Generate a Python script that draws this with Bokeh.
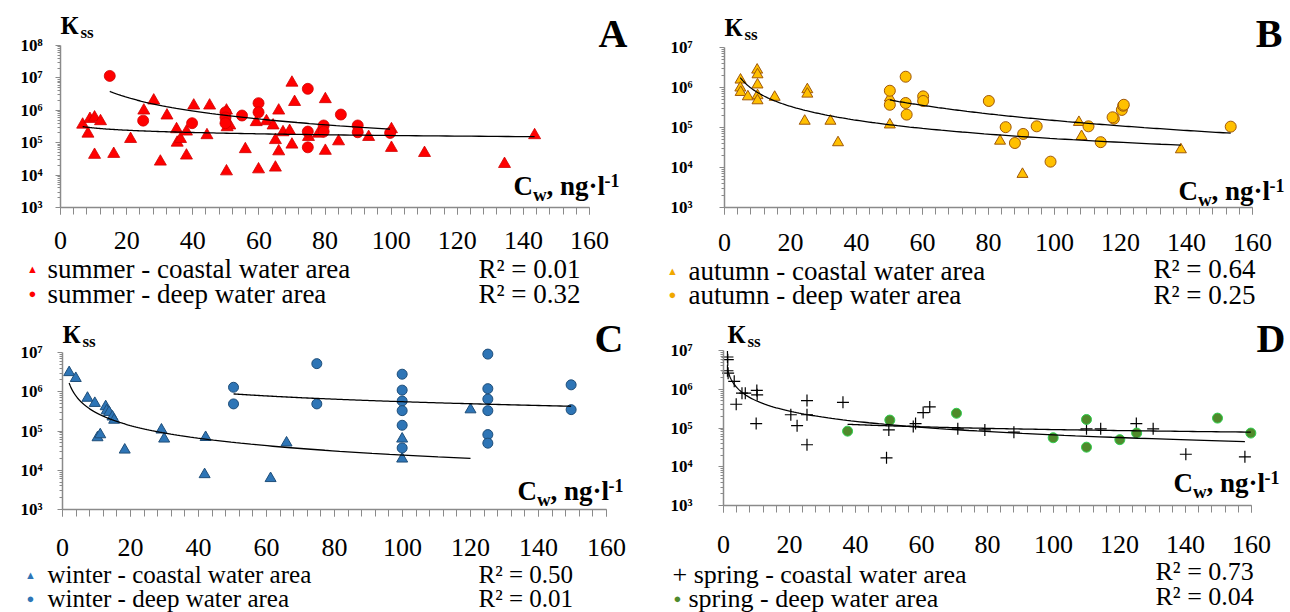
import numpy as np
from bokeh.plotting import figure
from bokeh.layouts import row, column
from bokeh.models import Range1d, Label, SingleIntervalTicker, FixedTicker, CustomJSTickFormatter
from bokeh.embed import file_html
from bokeh.resources import INLINE

# ---------------- data ----------------
summer_coastal_x = [6.7, 8.3, 8.9, 10.3, 12.1, 10.3, 16.1, 21.2, 25.2, 28.2, 30.2, 32.2, 35.1, 35.3, 36.3,
                    38.1, 38.1, 40.3, 44.3, 45.1, 50.2, 50.2, 51.2, 50.4, 55.9, 59.2, 59.9, 62.3, 64.3, 65.0,
                    66.0, 66.0, 65.0, 67.3, 69.3, 70.0, 70.0, 70.8, 75.0, 78.0, 80.1, 80.1, 84.1, 93.2, 100.1,
                    100.1, 110.1, 134.3, 143.4]
summer_coastal_y = [3.6e5, 1.9e5, 5.4e5, 6.0e5, 4.6e5, 4.2e4, 4.5e4, 1.3e5, 9.8e5, 2.0e6, 2.6e4, 6.9e5, 2.6e5, 1.0e5, 1.3e5,
                    2.2e5, 4.0e4, 1.4e6, 1.7e5, 1.4e6, 9.8e5, 1.3e4, 3.4e5, 3.0e5, 6.3e4, 4.3e5, 1.5e4, 4.6e5, 3.4e5, 1.2e5,
                    9.8e5, 5.4e4, 1.7e4, 2.1e5, 2.3e5, 8.7e4, 7.1e6, 1.8e6, 1.5e5, 1.9e5, 2.2e6, 5.6e4, 1.1e5, 1.5e5, 2.6e5,
                    6.9e4, 4.8e4, 2.2e4, 1.7e5]
summer_deep_x = [14.9, 25.0, 39.8, 49.9, 49.9, 49.9, 54.9, 59.9, 59.9, 74.8, 74.8, 74.8, 79.6, 79.6, 84.8, 89.9, 89.9, 99.7]
summer_deep_y = [1.15e7, 4.8e5, 4.0e5, 8.7e5, 6.0e5, 4.0e5, 6.9e5, 1.66e6, 8.7e5, 4.6e6, 2.2e5, 7.2e4, 3.4e5, 2.2e5, 7.4e5, 3.4e5, 2.1e5, 2.0e5]

autumn_coastal_x = [4.85, 4.8, 4.9, 7.07, 9.9, 10.0, 10.0, 10.0, 10.0, 15.2, 25.1, 25.1, 24.3, 32.1, 34.4, 50.1, 50.1,
                    83.5, 90.3, 107.4, 108.2, 138.3]
autumn_coastal_y = [1.55e6, 9.8e5, 7.6e5, 5.9e5, 2.75e6, 2.1e6, 1.17e6, 6.3e5, 4.7e5, 5.75e5, 8.9e5, 6.9e5, 1.45e5, 1.45e5,
                    4.2e4, 1.17e5, 5.5e5, 4.6e4, 6.8e3, 1.35e5, 6.0e4, 2.8e4]
autumn_deep_x = [50.1, 50.1, 54.9, 54.9, 55.2, 60.2, 60.2, 80.1, 85.2, 88.0, 90.5, 94.6, 98.8, 110.3, 114.0, 118.0, 117.6,
                 120.4, 120.8, 121.0, 153.4]
autumn_deep_y = [8.3e5, 3.7e5, 1.86e6, 4.1e5, 2.1e5, 6.0e5, 4.6e5, 4.6e5, 1.02e5, 4.1e4, 6.9e4, 1.07e5, 1.4e4, 1.07e5, 4.3e4,
                 1.66e5, 1.8e5, 2.75e5, 3.5e5, 3.7e5, 1.05e5]

winter_coastal_x = [1.96, 3.9, 7.35, 9.5, 10.3, 11.1, 12.7, 13.0, 13.7, 14.7, 15.2, 18.3, 29.1, 29.9, 42.1, 41.8, 61.2,
                    65.9, 99.9, 99.9, 120.0]
winter_coastal_y = [3.1e6, 2.2e6, 6.9e5, 5.1e5, 6.8e4, 8.1e4, 4.2e5, 3.3e5, 3.0e5, 2.3e5, 1.9e5, 3.3e4, 1.07e5, 6.3e4,
                    6.9e4, 7.8e3, 6.2e3, 5.0e4, 6.3e4, 1.95e4, 3.5e5]
winter_deep_x = [50.3, 50.3, 74.8, 74.8, 99.9, 99.9, 99.9, 99.9, 99.9, 99.9, 125.1, 125.1, 125.1, 125.1, 125.1, 125.1,
                 149.6, 149.6]
winter_deep_y = [1.3e6, 4.9e5, 5.2e6, 4.9e5, 2.8e6, 1.1e6, 5.8e5, 3.3e5, 1.4e5, 3.7e4, 9.1e6, 1.2e6, 6.5e5, 3.3e5, 8.1e4,
                 4.9e4, 1.5e6, 3.5e5]

spring_coastal_x = [1.2, 1.3, 1.2, 1.4, 3.25, 3.85, 5.6, 6.6, 10.1, 10.2, 9.9, 20.4, 22.3, 25.3, 25.3, 25.3, 36.2, 49.4,
                    50.1, 57.5, 58.2, 60.5, 62.5, 71.0, 79.2, 88.0, 110.0, 114.3, 125.1, 130.2, 140.1, 158.0]
spring_coastal_y = [6.8e6, 5.8e6, 3.0e6, 2.6e6, 1.6e6, 4.1e5, 7.9e5, 7.9e5, 9.3e5, 7.2e5, 1.3e5, 2.2e5, 1.15e5, 5.1e5,
                    2.2e5, 3.7e4, 4.6e5, 1.7e4, 8.9e4, 1.1e5, 1.3e5, 2.5e5, 3.5e5, 9.5e4, 8.9e4, 7.8e4, 9.5e4, 9.5e4,
                    1.3e5, 9.5e4, 2.1e4, 1.8e4]
spring_deep_x = [37.6, 50.4, 70.6, 99.9, 110.0, 110.0, 120.1, 125.2, 149.7, 159.8]
spring_deep_y = [8.3e4, 1.6e5, 2.4e5, 5.6e4, 1.66e5, 3.2e4, 5.0e4, 7.4e4, 1.8e5, 7.4e4]

x_axis_range = [0, 160]
panel_letters = ["A", "B", "C", "D"]
legend_texts = [["summer - coastal water area", "summer - deep water area"],
                ["autumn - coastal water area", "autumn - deep water area"],
                ["winter - coastal water area", "winter - deep water area"],
                ["+ spring - coastal water area", "spring - deep water area"]]
r2_texts = [["R\u00b2 = 0.01", "R\u00b2 = 0.32"],
            ["R\u00b2 = 0.64", "R\u00b2 = 0.25"],
            ["R\u00b2 = 0.50", "R\u00b2 = 0.01"],
            ["R\u00b2 = 0.73", "R\u00b2 = 0.04"]]

SERIF = "Liberation Serif"
AXIS_GRAY = "#8a8a8a"


def power_fit(xs, ys):
    lx, ly = np.log10(xs), np.log10(ys)
    b, a = np.polyfit(lx, ly, 1)
    xf = np.geomspace(min(xs), max(xs), 150)
    return xf, 10 ** (a + b * np.log10(xf))


class Panel:
    def __init__(self, geom, ymax_exp, ystand, xstand):
        ox, oy, w, h, x0, x1, ytop, ybot = geom
        self.ox, self.oy, self.w, self.h = ox, oy, w, h
        lo, hi = x_axis_range
        ppu = (x1 - x0) / (hi - lo)
        xs = lo - (x0 - ox) / ppu
        xe = hi + (ox + w - x1) / ppu
        ppd = (ybot - ytop) / (ymax_exp - 3)
        ys = 3 - (oy + h - ybot) / ppd
        ye = ymax_exp + (ytop - oy) / ppd
        p = figure(width=w, height=h, min_border=0, x_range=Range1d(xs, xe),
                   y_range=Range1d(10 ** ys, 10 ** ye), y_axis_type="log",
                   output_backend="svg", toolbar_location=None)
        p.outline_line_color = None
        p.grid.visible = False
        xa = p.xaxis[0]
        xa.fixed_location = 1e3
        xa.bounds = (lo, hi)
        xa.ticker = SingleIntervalTicker(interval=20, num_minor_ticks=5)
        xa.axis_line_color = AXIS_GRAY
        xa.axis_line_width = 1.5
        xa.major_tick_line_color = AXIS_GRAY
        xa.minor_tick_line_color = AXIS_GRAY
        xa.major_tick_in = 0
        xa.major_tick_out = 7
        xa.minor_tick_in = 0
        xa.minor_tick_out = 7
        xa.major_label_text_font = SERIF
        xa.major_label_text_font_size = "26px"
        xa.major_label_text_color = "black"
        xa.major_label_standoff = xstand
        ya = p.yaxis[0]
        ya.fixed_location = lo
        ya.bounds = (1e3, 10 ** ymax_exp)
        ya.ticker = FixedTicker(ticks=[10.0 ** e for e in range(3, ymax_exp + 1)],
                                minor_ticks=[k * 10.0 ** e for e in range(3, ymax_exp) for k in range(2, 10)])
        ya.formatter = CustomJSTickFormatter(code="""
            const sup = ["\u2070","\u00b9","\u00b2","\u00b3","\u2074","\u2075","\u2076","\u2077","\u2078","\u2079"];
            const e = Math.round(Math.log10(tick));
            return "10" + sup[e];
        """)
        ya.axis_line_color = AXIS_GRAY
        ya.axis_line_width = 1.5
        ya.major_tick_line_color = AXIS_GRAY
        ya.minor_tick_line_color = AXIS_GRAY
        ya.major_tick_in = 0
        ya.major_tick_out = 5
        ya.minor_tick_in = 0
        ya.minor_tick_out = 3
        ya.major_label_text_font = SERIF
        ya.major_label_text_font_style = "bold"
        ya.major_label_text_font_size = "17px"
        ya.major_label_text_color = "black"
        ya.major_label_standoff = ystand
        self.p = p

    def lab(self, text, X, Y, size, bold=False, color="black", align="left"):
        self.p.add_layout(Label(x=X - self.ox, y=self.oy + self.h - Y, x_units="screen", y_units="screen",
                                text=text, text_font=SERIF, text_font_size=f"{size}px",
                                text_font_style="bold" if bold else "normal",
                                text_color=color, text_align=align, text_baseline="middle"))

    def lab_base(self, text, X, base, size, bold=True, align="left"):
        # place text by its alphabetic baseline (middle of em box is ~0.34 em above it)
        self.lab(text, X, base - 0.34 * size, size, bold=bold, align=align)

    def decorate(self, letter, k_pos, letter_pos, cw_pos):
        kx, kb = k_pos
        self.lab_base("\u041a", kx, kb, 25)
        self.lab_base("ss", kx + 20, kb + 5, 17)
        self.lab_base(letter, letter_pos[0], letter_pos[1], 40, align="right")
        cx, cb = cw_pos
        self.lab_base("C", cx, cb, 27)
        self.lab_base("w", cx + 19.5, cb + 5, 19)
        self.lab_base(", ng\u00b7l", cx + 33, cb, 27)
        self.lab_base("-1", cx + 91, cb - 9, 18)

    def legend(self, idx, marks, text_x, rows_y, r2_x, r2_y, size=26):
        for m, ty in zip(marks, rows_y):
            if m is not None:
                mtext, mx, mcolor, msize = m
                self.lab(mtext, mx, ty, msize, color=mcolor, align="center")
        for tx, ty, t in zip(text_x, rows_y, legend_texts[idx]):
            self.lab(t, tx, ty, size)
        for ty, t in zip(r2_y, r2_texts[idx]):
            self.lab(t, r2_x, ty, size)


# geometry: canvas origin x, y, width, height, px of x=0, px of x=160, px of top decade, px of 10^3
# ---------------- Panel A ----------------
A = Panel((0, 0, 645, 311, 60, 589, 45, 207), 8, 13, 17)
A.p.scatter(summer_coastal_x, summer_coastal_y, marker="triangle", size=12,
            fill_color="#ff0000", line_color="#d00000", line_width=0.8)
A.p.scatter(summer_deep_x, summer_deep_y, marker="circle", size=11,
            fill_color="#ff0000", line_color="#d00000", line_width=0.8)
for xs_, ys_ in [(summer_coastal_x, summer_coastal_y), (summer_deep_x, summer_deep_y)]:
    fx, fy = power_fit(xs_, ys_)
    A.p.line(fx, fy, line_color="black", line_width=1.3)
A.decorate(panel_letters[0], (60, 33), (627, 47), (513, 195))
A.legend(0, [("\u25b2", 32, "#ff0000", 11), ("\u25cf", 32, "#ff0000", 13)], [47, 47], [268, 293], 478, [268, 293], 27)

# ---------------- Panel B ----------------
B = Panel((645, 0, 643, 311, 724, 1252, 47, 207), 7, 27, 19)
B.p.scatter(autumn_coastal_x, autumn_coastal_y, marker="triangle", size=11,
            fill_color="#ffc000", line_color="#a0580a", line_width=1)
B.p.scatter(autumn_deep_x, autumn_deep_y, marker="circle", size=11,
            fill_color="#ffc000", line_color="#a0580a", line_width=1)
for xs_, ys_ in [(autumn_coastal_x, autumn_coastal_y), (autumn_deep_x, autumn_deep_y)]:
    fx, fy = power_fit(xs_, ys_)
    B.p.line(fx, fy, line_color="black", line_width=1.3)
B.decorate(panel_letters[1], (724, 35), (1282, 47), (1178, 200))
B.legend(1, [("\u25b2", 672, "#f0a800", 11), ("\u25cf", 672, "#f0a800", 13)], [688, 688], [270, 294], 1153, [268, 294], 27)

# ---------------- Panel C ----------------
C = Panel((0, 311, 645, 301, 62, 606, 352, 509), 7, 15, 22)
C.p.scatter(winter_coastal_x, winter_coastal_y, marker="triangle", size=11,
            fill_color="#2e75b6", line_color="#1f4e79", line_width=1)
C.p.scatter(winter_deep_x, winter_deep_y, marker="circle", size=10,
            fill_color="#2e75b6", line_color="#1f4e79", line_width=1)
for xs_, ys_ in [(winter_coastal_x, winter_coastal_y), (winter_deep_x, winter_deep_y)]:
    fx, fy = power_fit(xs_, ys_)
    C.p.line(fx, fy, line_color="black", line_width=1.3)
C.decorate(panel_letters[2], (62, 342), (623, 352), (517, 500))
C.legend(2, [("\u25b2", 30, "#2e75b6", 11), ("\u25cf", 30, "#2e75b6", 13)], [47, 47], [574, 598], 478, [574, 598], 25)

# ---------------- Panel D ----------------
D = Panel((645, 311, 643, 301, 723, 1251, 350, 505), 7, 26, 23)
D.p.scatter(spring_coastal_x, spring_coastal_y, marker="cross", size=12,
            line_color="black", line_width=1.2)
D.p.scatter(spring_deep_x, spring_deep_y, marker="circle", size=10,
            fill_color="#4f8a2b", line_color="#2fd050", line_width=1)
for xs_, ys_ in [(spring_coastal_x, spring_coastal_y), (spring_deep_x, spring_deep_y)]:
    fx, fy = power_fit(xs_, ys_)
    D.p.line(fx, fy, line_color="black", line_width=1.3)
D.decorate(panel_letters[3], (727, 342), (1285, 352), (1173, 492))
D.legend(3, [None, ("\u25cf", 677, "#4f8a2b", 13)], [672, 688], [574, 598], 1155, [571, 596], 26)

layout = column(row(A.p, B.p), row(C.p, D.p))
open("out.html", "w").write(file_html(layout, INLINE, "Kss vs Cw"))
